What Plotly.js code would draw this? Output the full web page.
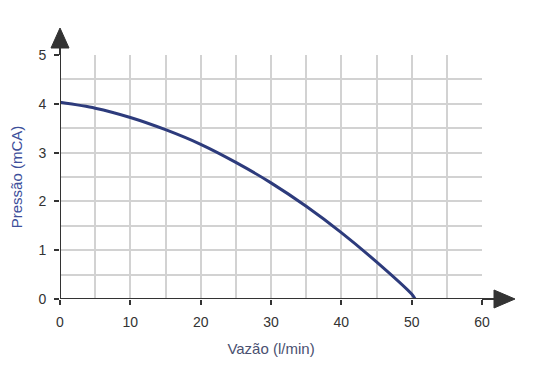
<!DOCTYPE html>
<html>
<head>
<meta charset="utf-8">
<script src="https://cdn.plot.ly/plotly-3.0.1.min.js"></script>
<style>html,body{margin:0;padding:0;background:#fff;}#chart{width:550px;height:376px;}</style>
</head>
<body>
<div id="chart"></div>
<script>
const vazao = [0, 5, 10, 15, 20, 25, 30, 35, 40, 45, 50, 50.5];
const pressao = [4.03, 3.91, 3.72, 3.47, 3.17, 2.80, 2.38, 1.90, 1.36, 0.76, 0.10, 0.0];
const xTicks = [0, 10, 20, 30, 40, 50, 60];
const yTicks = [0, 1, 2, 3, 4, 5];

const axisColor = '#333333';
const gridColor = '#d2d2d2';

const trace = {
  x: vazao, y: pressao, type: 'scatter', mode: 'lines',
  line: {color: '#2d3b7c', width: 3, shape: 'spline', smoothing: 0.8},
  hoverinfo: 'skip', cliponaxis: false
};

const layout = {
  width: 550, height: 376,
  margin: {l: 60, r: 68, t: 55, b: 77},
  paper_bgcolor: '#ffffff', plot_bgcolor: '#ffffff',
  font: {family: 'Liberation Sans, Arial, sans-serif', size: 14, color: '#333'},
  showlegend: false,
  xaxis: {
    range: [0, 60], tickvals: xTicks, ticktext: xTicks.map(String),
    showgrid: true, gridcolor: gridColor, gridwidth: 2,
    minor: {dtick: 5, showgrid: true, gridcolor: gridColor, gridwidth: 2},
    zeroline: false, showline: false,
    ticks: 'outside', ticklen: 5, tickwidth: 2, tickcolor: axisColor,
    ticklabelstandoff: 5,
    tickfont: {size: 14, color: '#333'},
    title: {text: 'Vazão (l/min)', font: {size: 15, color: '#4a5070'}, standoff: 14},
    fixedrange: true
  },
  yaxis: {
    range: [0, 5], tickvals: yTicks, ticktext: yTicks.map(String),
    showgrid: true, gridcolor: gridColor, gridwidth: 2,
    minor: {dtick: 0.5, showgrid: true, gridcolor: gridColor, gridwidth: 2},
    zeroline: false, showline: false,
    ticks: 'outside', ticklen: 5, tickwidth: 2, tickcolor: axisColor,
    ticklabelstandoff: 5,
    tickfont: {size: 14, color: '#333'},
    title: {text: 'Pressão (mCA)', font: {size: 15, color: '#3d4f9a'}, standoff: 12},
    fixedrange: true
  },
  shapes: [
    {type: 'line', xref: 'x', yref: 'y', x0: 0, x1: 0, y0: 0, y1: 5, line: {color: axisColor, width: 2}},
    {type: 'path', xref: 'paper', yref: 'paper', xsizemode: 'pixel', ysizemode: 'pixel', xanchor: 0, yanchor: 1,
     path: 'M 0 0 L 0 10', line: {color: axisColor, width: 2}},
    {type: 'path', xref: 'paper', yref: 'paper', xsizemode: 'pixel', ysizemode: 'pixel', xanchor: 0, yanchor: 1,
     path: 'M -9 7 L 9 7 L 0 27 Z', fillcolor: axisColor, line: {color: axisColor, width: 1}},
    {type: 'line', xref: 'x', yref: 'y', x0: 0, x1: 60, y0: 0, y1: 0, line: {color: axisColor, width: 2}},
    {type: 'path', xref: 'paper', yref: 'paper', xsizemode: 'pixel', ysizemode: 'pixel', xanchor: 1, yanchor: 0,
     path: 'M 0 0 L 14 0', line: {color: axisColor, width: 2}},
    {type: 'path', xref: 'paper', yref: 'paper', xsizemode: 'pixel', ysizemode: 'pixel', xanchor: 1, yanchor: 0,
     path: 'M 12 -9 L 12 9 L 33 0 Z', fillcolor: axisColor, line: {color: axisColor, width: 1}}
  ]
};

Plotly.newPlot('chart', [trace], layout, {staticPlot: true, displayModeBar: false});
</script>
</body>
</html>
